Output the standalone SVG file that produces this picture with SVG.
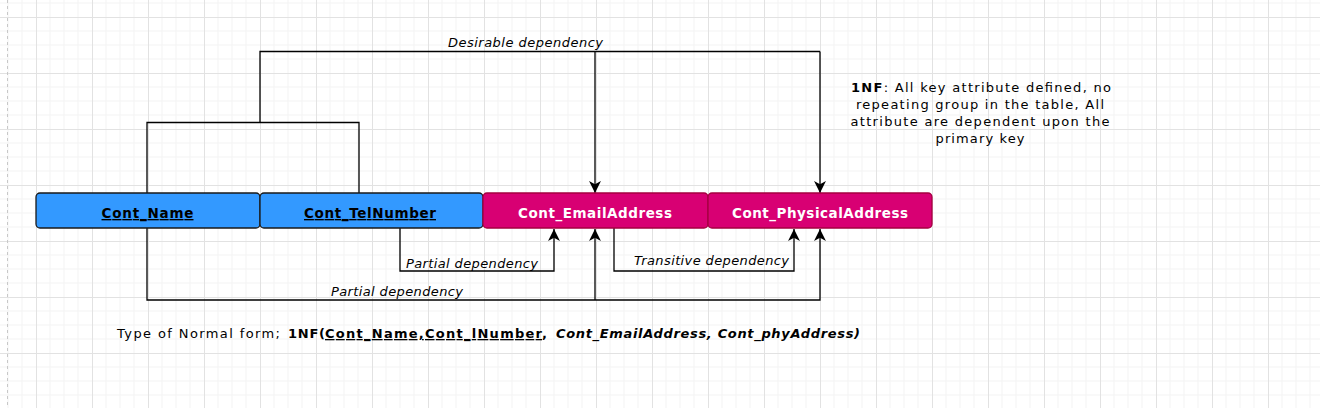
<svg xmlns="http://www.w3.org/2000/svg" width="1320" height="408" viewBox="0 0 1320 408">
<style>
  .t{font-family:"DejaVu Sans",Verdana,sans-serif;font-size:13px;fill:#000}
  .lbl{font-family:"DejaVu Sans",Verdana,sans-serif;font-size:13px;font-style:italic;fill:#000}
  .kb{font-family:"DejaVu Sans",Verdana,sans-serif;font-size:13.5px;font-weight:bold;text-anchor:middle}
  .blue{fill:#3399FF;stroke:#1A1A1A;stroke-width:1.3}
  .mag{fill:#D80073;stroke:#A50040;stroke-width:1.3}
  .ln{fill:none;stroke:#000;stroke-width:1.3}
  .arr{fill:none;stroke:#000;stroke-width:1.3;marker-end:url(#ah)}
</style>
<defs>
  <pattern id="grid" patternUnits="userSpaceOnUse" x="36" y="17" width="56" height="56">
    <path d="M14 0V56M28 0V56M42 0V56M0 14H56M0 28H56M0 42H56" stroke="#f3f3f3" stroke-width="1" fill="none"/>
    <path d="M0.5 0V56M0 0.5H56" stroke="#e2e2e2" stroke-width="1" fill="none"/>
  </pattern>
  <marker id="ah" markerUnits="userSpaceOnUse" markerWidth="13" markerHeight="14" refX="11" refY="5.5" orient="auto" viewBox="0 0 12 11">
    <path d="M0 0L11 5.5L0 11L3 5.5Z" fill="#000"/>
  </marker>
</defs>
<rect width="1320" height="408" fill="#fff"/>
<rect width="1320" height="408" fill="url(#grid)"/>
<line x1="7.5" y1="0" x2="7.5" y2="408" stroke="#c8c8c8" stroke-dasharray="3,3"/>

<g id="connectors">
  <path class="ln" d="M147 193V122.5H359V195"/>
  <path class="ln" d="M260 122.5V51.5H820"/>
  <path class="arr" d="M595 51.5V193"/>
  <path class="arr" d="M820 51.5V193"/>
  <path class="arr" d="M400 228V271H554V229"/>
  <path class="arr" d="M614 228V271H794V229"/>
  <path class="arr" d="M147 228V300H820V229"/>
  <path class="arr" d="M595 300V229"/>
  <text class="lbl" x="448" y="47" textLength="155" lengthAdjust="spacing">Desirable dependency</text>
  <text class="lbl" x="406" y="268" textLength="132" lengthAdjust="spacing">Partial dependency</text>
  <text class="lbl" x="634" y="265" textLength="155" lengthAdjust="spacing">Transitive dependency</text>
  <text class="lbl" x="331" y="296" textLength="132" lengthAdjust="spacing">Partial dependency</text>
</g>

<g id="cont_name">
  <rect class="blue" x="36" y="193" width="224" height="35" rx="4"/>
  <text class="kb" x="147.5" y="218" fill="#000" text-decoration="underline" textLength="92" lengthAdjust="spacing">Cont_Name</text>
</g>
<g id="cont_telnumber">
  <rect class="blue" x="260" y="193" width="223" height="35" rx="4"/>
  <text class="kb" x="370" y="218" fill="#000" text-decoration="underline" textLength="132" lengthAdjust="spacing">Cont_TelNumber</text>
</g>
<g id="cont_emailaddress">
  <rect class="mag" x="483" y="193" width="225" height="35" rx="4"/>
  <text class="kb" x="595" y="218" fill="#fff" textLength="154" lengthAdjust="spacing">Cont_EmailAddress</text>
</g>
<g id="cont_physicaladdress">
  <rect class="mag" x="708" y="193" width="224" height="35" rx="4"/>
  <text class="kb" x="820" y="218" fill="#fff" textLength="176" lengthAdjust="spacing">Cont_PhysicalAddress</text>
</g>

<g id="note_1nf">
  <text class="t" text-anchor="middle" x="981" y="92" textLength="260" lengthAdjust="spacing"><tspan font-weight="bold">1NF</tspan>: All key attribute defined, no</text>
  <text class="t" text-anchor="middle" x="980" y="109" textLength="248" lengthAdjust="spacing">repeating group in the table, All</text>
  <text class="t" text-anchor="middle" x="980" y="126" textLength="259" lengthAdjust="spacing">attribute are dependent upon the</text>
  <text class="t" text-anchor="middle" x="980" y="143" textLength="89" lengthAdjust="spacing">primary key</text>
</g>

<g id="normal_form">
  <text class="t" x="117" y="338" textLength="163" lengthAdjust="spacing">Type of Normal form;</text>
  <text class="t" x="288" y="338" font-weight="bold" textLength="37" lengthAdjust="spacing">1NF(</text>
  <text class="t" x="325" y="338" font-weight="bold" text-decoration="underline" textLength="217" lengthAdjust="spacing">Cont_Name,Cont_lNumber</text>
  <text class="t" x="542" y="338" font-weight="bold">,</text>
  <text class="t" x="556" y="338" font-weight="bold" font-style="italic" textLength="304" lengthAdjust="spacing">Cont_EmailAddress, Cont_phyAddress)</text>
</g>
</svg>
